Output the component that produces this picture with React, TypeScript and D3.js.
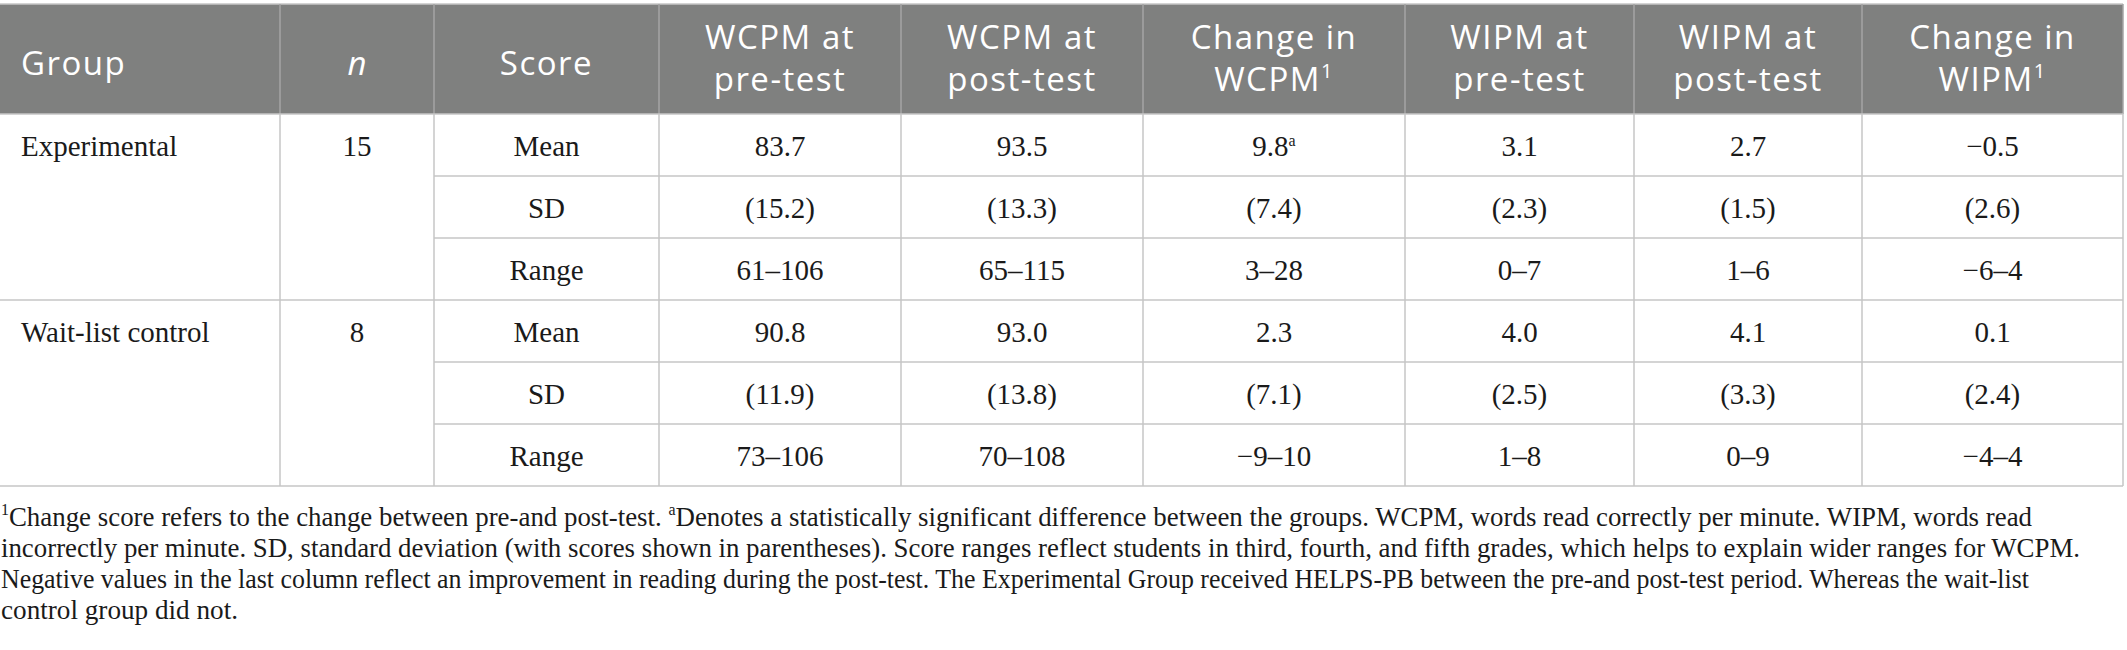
import React from "react";
import * as d3 from "d3";

const W = 2127;
const H = 650;

// ---- data ----
const headerLines: string[][] = [
  ["Group"],
  ["n"],
  ["Score"],
  ["WCPM at", "pre-test"],
  ["WCPM at", "post-test"],
  ["Change in", "WCPM|1"],
  ["WIPM at", "pre-test"],
  ["WIPM at", "post-test"],
  ["Change in", "WIPM|1"],
];
const groups = ["Experimental", "Wait-list control"];
const groupN = ["15", "8"];
const scoreRows = ["Mean", "SD", "Range", "Mean", "SD", "Range"];
const wcpmPre = ["83.7", "(15.2)", "61–106", "90.8", "(11.9)", "73–106"];
const wcpmPost = ["93.5", "(13.3)", "65–115", "93.0", "(13.8)", "70–108"];
const wcpmChange = ["9.8|a", "(7.4)", "3–28", "2.3", "(7.1)", "−9–10"];
const wipmPre = ["3.1", "(2.3)", "0–7", "4.0", "(2.5)", "1–8"];
const wipmPost = ["2.7", "(1.5)", "1–6", "4.1", "(3.3)", "0–9"];
const wipmChange = ["−0.5", "(2.6)", "−6–4", "0.1", "(2.4)", "−4–4"];
const footnoteLines = [
  "|1|Change score refers to the change between pre-and post-test. |a|Denotes a statistically significant difference between the groups. WCPM, words read correctly per minute. WIPM, words read",
  "incorrectly per minute. SD, standard deviation (with scores shown in parentheses). Score ranges reflect students in third, fourth, and fifth grades, which helps to explain wider ranges for WCPM.",
  "Negative values in the last column reflect an improvement in reading during the post-test. The Experimental Group received HELPS-PB between the pre-and post-test period. Whereas the wait-list",
  "control group did not.",
];

// ---- layout ----
const colEdges = [0, 280, 434, 659, 901, 1143, 1405, 1634, 1862, 2123];
const footEnds = [2032, 2080, 2029, 238];
const top = 4;
const headBottom = 114;
const rowH = 62;

const serif = "'Liberation Serif', 'Times New Roman', serif";
const sans = "'Open Sans', 'Noto Sans', sans-serif";

const x = d3.scaleOrdinal<number, number>().domain(d3.range(9)).range(colEdges.slice(0, 9));
const colW = (i: number) => colEdges[i + 1] - colEdges[i];
const colC = (i: number) => x(i) + colW(i) / 2;
const y = d3.scaleLinear().domain([0, 6]).range([headBottom, headBottom + 6 * rowH]);

function SupText({ s, supSize }: { s: string; supSize: number }) {
  const parts = s.split("|");
  if (parts.length === 1) return <>{s}</>;
  return (
    <>
      {parts[0]}
      <tspan fontSize={supSize} dy={-supSize * 0.65}>{parts[1]}</tspan>
    </>
  );
}

function FootLine({ s }: { s: string }) {
  const parts = s.split("|");
  const out: React.ReactNode[] = [];
  let up = false;
  parts.forEach((p, i) => {
    if (p === "") return;
    const isSup = i % 2 === 1;
    if (isSup) {
      out.push(<tspan key={i} fontSize={16} dy={-11}>{p}</tspan>);
      up = true;
    } else {
      out.push(<tspan key={i} dy={up ? 11 : 0}>{p}</tspan>);
      up = false;
    }
  });
  return <>{out}</>;
}

export default function App() {
  const cols = [wcpmPre, wcpmPost, wcpmChange, wipmPre, wipmPost, wipmChange];
  const lineColor = "#c6c6c6";
  const ink = "#1a1a1a";
  const bodySize = 29;
  const baseOff = 42;
  const headSize = 33;
  const headLS = 1.5;
  return (
    <svg width={W} height={H} style={{ position: "absolute", left: 0, top: 0, background: "#fff" }}>
      {/* header */}
      <rect x={0} y={top} width={colEdges[9]} height={headBottom - top} fill="#7f807f" />
      <line x1={0} x2={colEdges[9]} y1={top} y2={top} stroke={lineColor} strokeWidth={1.5} />
      {colEdges.slice(1).map((cx, i) => (
        <line key={"hv" + i} x1={cx} x2={cx} y1={top} y2={headBottom} stroke="#a4a4a4" strokeWidth={1.5} />
      ))}
      {headerLines.map((lines, i) => {
        const anchor = i === 0 ? "start" : "middle";
        const tx = i === 0 ? 21 : colC(i);
        if (lines.length === 1) {
          return (
            <text key={"h" + i} x={tx} y={75} fill="#fff" fontFamily={sans} fontSize={headSize}
              letterSpacing={i === 1 ? 0 : headLS} textAnchor={anchor} fontStyle={i === 1 ? "italic" : "normal"}>
              {lines[0]}
            </text>
          );
        }
        return (
          <g key={"h" + i}>
            {lines.map((ln, j) => (
              <text key={j} x={tx} y={49 + j * 42} fill="#fff" fontFamily={sans} fontSize={headSize}
                letterSpacing={headLS} textAnchor="middle">
                <SupText s={ln} supSize={20} />
              </text>
            ))}
          </g>
        );
      })}

      {/* body lines */}
      {d3.range(7).map((r) => {
        const full = r % 3 === 0;
        return (
          <line key={"hl" + r} x1={full ? 0 : colEdges[2]} x2={colEdges[9]} y1={y(r)} y2={y(r)}
            stroke={lineColor} strokeWidth={1.5} />
        );
      })}
      {colEdges.slice(1).map((cx, i) => (
        <line key={"bv" + i} x1={cx} x2={cx} y1={headBottom} y2={y(6)} stroke={lineColor} strokeWidth={1.5} />
      ))}

      {/* body text */}
      {groups.map((g, gi) => (
        <g key={"g" + gi}>
          <text x={21} y={y(gi * 3) + baseOff} fontFamily={serif} fontSize={bodySize} fill={ink}>{g}</text>
          <text x={colC(1)} y={y(gi * 3) + baseOff} fontFamily={serif} fontSize={bodySize} fill={ink} textAnchor="middle">{groupN[gi]}</text>
        </g>
      ))}
      {scoreRows.map((s, r) => (
        <text key={"s" + r} x={colC(2)} y={y(r) + baseOff} fontFamily={serif} fontSize={bodySize} fill={ink} textAnchor="middle">{s}</text>
      ))}
      {cols.map((vals, ci) =>
        vals.map((v, r) => (
          <text key={"c" + ci + "-" + r} x={colC(ci + 3)} y={y(r) + baseOff} fontFamily={serif} fontSize={bodySize}
            fill={ink} textAnchor="middle">
            <SupText s={v} supSize={16} />
          </text>
        ))
      )}

      {/* footnote */}
      {footnoteLines.map((ln, i) => (
        <text key={"f" + i} x={1} y={526 + i * 31} fontFamily={serif} fontSize={27} fill={ink}
          textLength={footEnds[i] - 1} lengthAdjust="spacingAndGlyphs">
          <FootLine s={ln} />
        </text>
      ))}
    </svg>
  );
}
